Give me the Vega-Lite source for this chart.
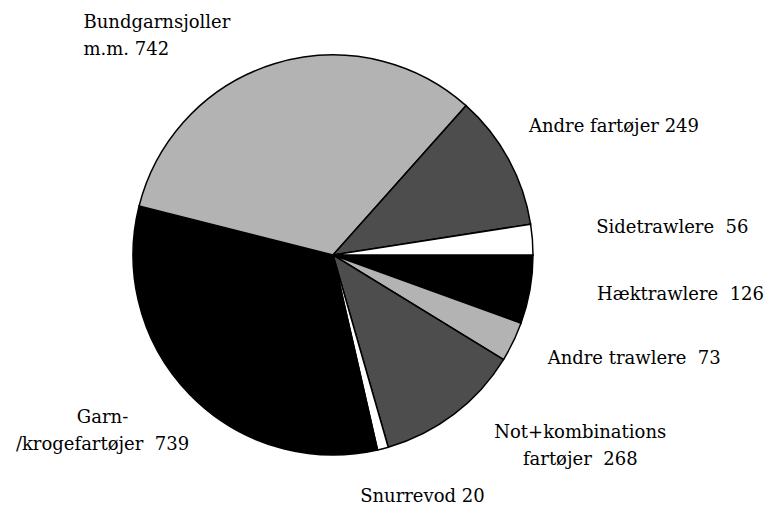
{
  "$schema": "https://vega.github.io/schema/vega-lite/v6.json",
  "width": 666,
  "height": 502,
  "autosize": {"type": "none"},
  "padding": {"left": 0, "top": 4, "right": 104, "bottom": 0},
  "background": "white",
  "config": {"view": {"stroke": null}, "font": "DejaVu Serif"},
  "data": {
    "values": [
      {"order": 1, "name": "Hæktrawlere", "value": 126, "label": "Hæktrawlere\u00a0 126"},
      {"order": 2, "name": "Andre trawlere", "value": 73, "label": "Andre trawlere\u00a0 73"},
      {"order": 3, "name": "Not+kombinations fartøjer", "value": 268, "label": "Not+kombinations\nfartøjer\u00a0 268"},
      {"order": 4, "name": "Snurrevod", "value": 20, "label": "Snurrevod 20"},
      {"order": 5, "name": "Garn-/krogefartøjer", "value": 739, "label": "Garn-\n/krogefartøjer\u00a0 739"},
      {"order": 6, "name": "Bundgarnsjoller m.m.", "value": 742, "label": "Bundgarnsjoller\nm.m. 742"},
      {"order": 7, "name": "Andre fartøjer", "value": 249, "label": "Andre fartøjer 249"},
      {"order": 8, "name": "Sidetrawlere", "value": 56, "label": "Sidetrawlere\u00a0 56"}
    ]
  },
  "transform": [
    {"stack": "value", "groupby": [], "sort": [{"field": "order", "order": "ascending"}], "as": ["v0", "v1"]},
    {"calculate": "(datum.v0 + datum.v1) / 2", "as": "mid"}
  ],
  "layer": [
    {
      "mark": {"type": "arc", "outerRadius": 200, "stroke": "black", "strokeWidth": 1.5},
      "encoding": {
        "theta": {"field": "v0", "type": "quantitative", "stack": null, "scale": {"domain": [0, 2273], "range": [1.5708, 7.854], "zero": true}},
        "theta2": {"field": "v1"},
        "color": {
          "field": "name", "type": "nominal", "legend": null,
          "scale": {
            "domain": ["Hæktrawlere", "Andre trawlere", "Not+kombinations fartøjer", "Snurrevod", "Garn-/krogefartøjer", "Bundgarnsjoller m.m.", "Andre fartøjer", "Sidetrawlere"],
            "range": ["#000000", "#b3b3b3", "#4d4d4d", "#ffffff", "#000000", "#b3b3b3", "#4d4d4d", "#ffffff"]
          }
        }
      }
    },
    {
      "transform": [{"filter": {"field": "order", "equal": 1}}],
      "mark": {"type": "text", "radius": 230, "dx": 121, "dy": 5, "align": "center", "baseline": "alphabetic", "font": "DejaVu Serif", "fontSize": 18, "lineHeight": 27, "lineBreak": "\n", "color": "black"},
      "encoding": {"theta": {"field": "mid", "type": "quantitative", "stack": null, "scale": {"domain": [0, 2273], "range": [1.5708, 7.854], "zero": true}}, "text": {"field": "label"}}
    },
    {
      "transform": [{"filter": {"field": "order", "equal": 2}}],
      "mark": {"type": "text", "radius": 230, "dx": 94, "dy": 9, "align": "center", "baseline": "alphabetic", "font": "DejaVu Serif", "fontSize": 18, "lineHeight": 27, "lineBreak": "\n", "color": "black"},
      "encoding": {"theta": {"field": "mid", "type": "quantitative", "stack": null, "scale": {"domain": [0, 2273], "range": [1.5708, 7.854], "zero": true}}, "text": {"field": "label"}}
    },
    {
      "transform": [{"filter": {"field": "order", "equal": 3}}],
      "mark": {"type": "text", "radius": 230, "dx": 108, "dy": 0, "align": "center", "baseline": "alphabetic", "font": "DejaVu Serif", "fontSize": 18, "lineHeight": 27, "lineBreak": "\n", "color": "black"},
      "encoding": {"theta": {"field": "mid", "type": "quantitative", "stack": null, "scale": {"domain": [0, 2273], "range": [1.5708, 7.854], "zero": true}}, "text": {"field": "label"}}
    },
    {
      "transform": [{"filter": {"field": "order", "equal": 4}}],
      "mark": {"type": "text", "radius": 230, "dx": 32, "dy": 24, "align": "center", "baseline": "alphabetic", "font": "DejaVu Serif", "fontSize": 18, "lineHeight": 27, "lineBreak": "\n", "color": "black"},
      "encoding": {"theta": {"field": "mid", "type": "quantitative", "stack": null, "scale": {"domain": [0, 2273], "range": [1.5708, 7.854], "zero": true}}, "text": {"field": "label"}}
    },
    {
      "transform": [{"filter": {"field": "order", "equal": 5}}],
      "mark": {"type": "text", "radius": 230, "dx": -66, "dy": 7, "align": "center", "baseline": "alphabetic", "font": "DejaVu Serif", "fontSize": 18, "lineHeight": 27, "lineBreak": "\n", "color": "black"},
      "encoding": {"theta": {"field": "mid", "type": "quantitative", "stack": null, "scale": {"domain": [0, 2273], "range": [1.5708, 7.854], "zero": true}}, "text": {"field": "label"}}
    },
    {
      "transform": [{"filter": {"field": "order", "equal": 6}}],
      "mark": {"type": "text", "radius": 230, "dx": -182, "dy": -7, "align": "left", "baseline": "alphabetic", "font": "DejaVu Serif", "fontSize": 18, "lineHeight": 27, "lineBreak": "\n", "color": "black"},
      "encoding": {"theta": {"field": "mid", "type": "quantitative", "stack": null, "scale": {"domain": [0, 2273], "range": [1.5708, 7.854], "zero": true}}, "text": {"field": "label"}}
    },
    {
      "transform": [{"filter": {"field": "order", "equal": 7}}],
      "mark": {"type": "text", "radius": 230, "dx": 79, "dy": -13, "align": "center", "baseline": "alphabetic", "font": "DejaVu Serif", "fontSize": 18, "lineHeight": 27, "lineBreak": "\n", "color": "black"},
      "encoding": {"theta": {"field": "mid", "type": "quantitative", "stack": null, "scale": {"domain": [0, 2273], "range": [1.5708, 7.854], "zero": true}}, "text": {"field": "label"}}
    },
    {
      "transform": [{"filter": {"field": "order", "equal": 8}}],
      "mark": {"type": "text", "radius": 230, "dx": 110, "dy": -4, "align": "center", "baseline": "alphabetic", "font": "DejaVu Serif", "fontSize": 18, "lineHeight": 27, "lineBreak": "\n", "color": "black"},
      "encoding": {"theta": {"field": "mid", "type": "quantitative", "stack": null, "scale": {"domain": [0, 2273], "range": [1.5708, 7.854], "zero": true}}, "text": {"field": "label"}}
    }
  ]
}
